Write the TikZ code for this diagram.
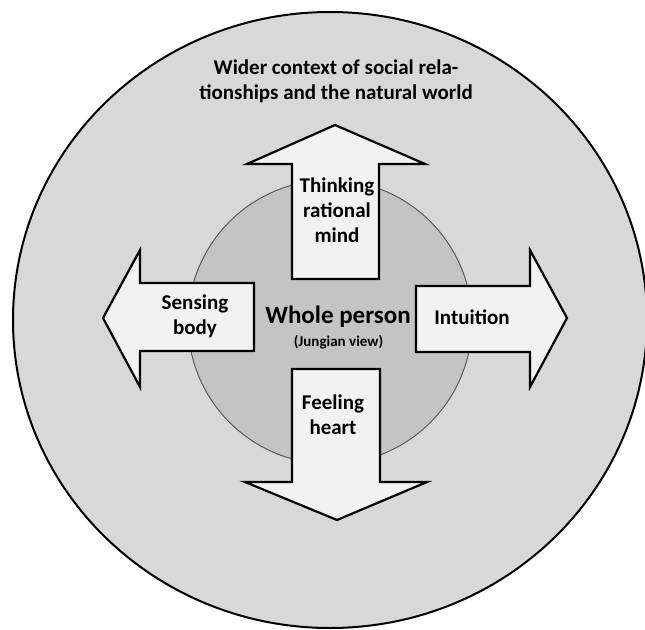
\documentclass[tikz,border=0pt]{standalone}
\usepackage{fontspec}
\setmainfont{Carlito}
\definecolor{outerfill}{RGB}{216,216,216}
\definecolor{innerfill}{RGB}{196,196,196}
\definecolor{arrowfill}{RGB}{242,242,242}
\definecolor{innerline}{RGB}{90,90,90}
\begin{document}
\begin{tikzpicture}[x=1pt,y=-1pt,
  arrowshape/.style={fill=arrowfill,draw=black,line width=2.2pt,line join=miter},
  lbl/.style={align=center,inner sep=0pt,font=\bfseries\fontsize{21}{25}\selectfont},
]
\useasboundingbox (0,0) rectangle (645,629);
% outer context
\draw[fill=outerfill,draw=black,line width=2pt] (330,320) ellipse [x radius=317, y radius=308];
% inner whole person circle
\draw[fill=innerfill,draw=innerline,line width=1pt] (330,322) circle [radius=142];
% arrows
\draw[arrowshape] (292,279) -- (292,164) -- (247,164) -- (335,125) -- (425,164) -- (379,164) -- (379,279) -- cycle;
\draw[arrowshape] (292,369) -- (380,369) -- (380,482) -- (427,482) -- (337,520) -- (245,482) -- (292,482) -- cycle;
\draw[arrowshape] (254,283) -- (140,283) -- (140,250) -- (103,318) -- (140,387) -- (140,351) -- (254,351) -- cycle;
\draw[arrowshape] (416,286) -- (530,286) -- (530,250) -- (567,318) -- (530,387) -- (530,352) -- (416,352) -- cycle;
% texts
\node[lbl] (ctx) at (336,81) {Wider context of social rela-\\tionships and the natural world};
\node[lbl] (think) at (337,210) {Thinking\\rational\\mind};
\node[lbl] (sense) at (195,316) {Sensing\\body};
\node[lbl] (intu) at (472,317) {Intuition};
\node[lbl] (feel) at (333,415) {Feeling\\heart};
\node[inner sep=0pt,font=\bfseries\fontsize{25}{28}\selectfont] (whole) at (338,317) {Whole person};
\node[inner sep=0pt,font=\bfseries\fontsize{15}{17}\selectfont] (jung) at (338.5,342) {(Jungian view)};
\end{tikzpicture}
\end{document}
